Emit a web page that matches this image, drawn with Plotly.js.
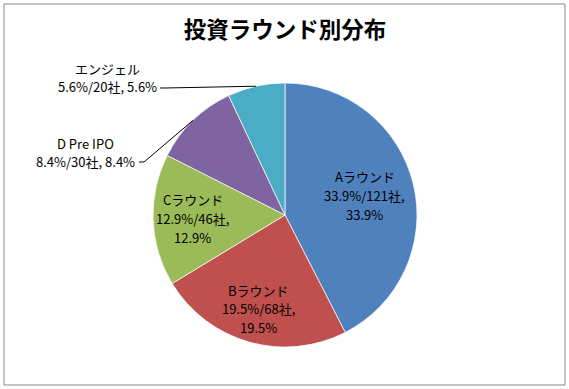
<!DOCTYPE html>
<html>
<head>
<meta charset="utf-8">
<script src="https://cdn.plot.ly/plotly-3.0.1.min.js"></script>
<style>
  html, body { margin: 0; padding: 0; background: #fff; }
  #chart { width: 569px; height: 389px; }
</style>
</head>
<body>
<div id="chart"></div>
<script>
// ---- data ----
const rounds   = ["Aラウンド", "Bラウンド", "Cラウンド", "D Pre IPO", "エンジェル"];
const counts   = [121, 68, 46, 30, 20];
const percents = ["33.9%", "19.5%", "12.9%", "8.4%", "5.6%"];
const colors   = ["#4F81BD", "#C0504D", "#9BBB59", "#8064A2", "#4BACC6"];
const labelMode = ["inside", "inside", "inside", "outside", "outside"];
const title = "投資ラウンド別分布";

// ---- layout geometry ----
const W = 569, H = 389;
const M = { l: 153, r: 152, t: 83, b: 42 };
const PW = W - M.l - M.r, PH = H - M.t - M.b;
const font = "'Noto Sans CJK JP', 'Noto Sans', sans-serif";
const FS = 13;
const LS = 18.8; // line spacing in px

// label placement (style/layout, not data)
const insideRadius = { 0: 0.62, 1: 0.74, 2: 0.70 };
const outsideLabelPos = { 3: { x: 85, y: 152.5, lx: 139, ly: 162 }, 4: { x: 107, y: 77.5, lx: 160, ly: 88 } };

const total = counts.reduce((a, b) => a + b, 0);
const annotations = [];
const shapes = [];

function addLines(lines, px, py) { // px, py: block centre in pixels
  const n = lines.length;
  lines.forEach((t, k) => {
    const yy = py + (k - (n - 1) / 2) * LS;
    annotations.push({
      xref: "paper", yref: "paper",
      x: (px - M.l) / PW, y: (H - M.b - yy) / PH,
      xanchor: "center", yanchor: "middle",
      text: t, showarrow: false,
      font: { family: font, size: FS, color: "#000" }
    });
  });
}

let cum = 0;
counts.forEach((c, i) => {
  const mid = (cum + c / 2) / total * 2 * Math.PI; // clockwise from top
  cum += c;
  const cx = M.l + PW / 2, cy = M.t + PH / 2, R = Math.min(PW, PH) / 2;
  if (labelMode[i] === "inside") {
    const rr = insideRadius[i] * R;
    addLines([rounds[i], `${percents[i]}/${counts[i]}社,`, percents[i]],
             cx + rr * Math.sin(mid), cy - rr * Math.cos(mid));
  } else {
    const p = outsideLabelPos[i];
    addLines([rounds[i], `${percents[i]}/${counts[i]}社, ${percents[i]}`], p.x, p.y);
    const tx = cx + R * Math.sin(mid), ty = cy - R * Math.cos(mid);
    shapes.push({
      type: "path", xref: "paper", yref: "paper",
      path: `M ${(p.lx - M.l) / PW} ${(H - M.b - p.ly) / PH} L ${(p.lx + 5 - M.l) / PW} ${(H - M.b - p.ly) / PH} L ${(tx - M.l) / PW} ${(H - M.b - ty) / PH}`,
      line: { color: "#000", width: 1 }
    });
  }
});

// outer border
shapes.push({
  type: "rect", xref: "paper", yref: "paper",
  x0: (4 - M.l) / PW, x1: (565 - M.l) / PW,
  y0: (H - M.b - 385) / PH, y1: (H - M.b - 4) / PH,
  line: { color: "#878787", width: 1 }
});

const trace = {
  type: "pie",
  labels: rounds,
  values: counts,
  textinfo: "none",
  sort: false,
  direction: "clockwise",
  rotation: 0,
  marker: { colors: colors, line: { color: "#ffffff", width: 0.7 } },
  hoverinfo: "label+value",
  showlegend: false
};

const layout = {
  width: W, height: H,
  margin: M,
  paper_bgcolor: "#fff",
  plot_bgcolor: "#fff",
  title: {
    text: "<b>" + title + "</b>",
    font: { family: font, size: 22.5, color: "#000" },
    x: 0.5, xref: "paper", xanchor: "center",
    y: 1 - 30 / H, yref: "container", yanchor: "middle"
  },
  annotations: annotations,
  shapes: shapes,
  showlegend: false
};

Plotly.newPlot("chart", [trace], layout, { displayModeBar: false, staticPlot: true });
</script>
</body>
</html>
